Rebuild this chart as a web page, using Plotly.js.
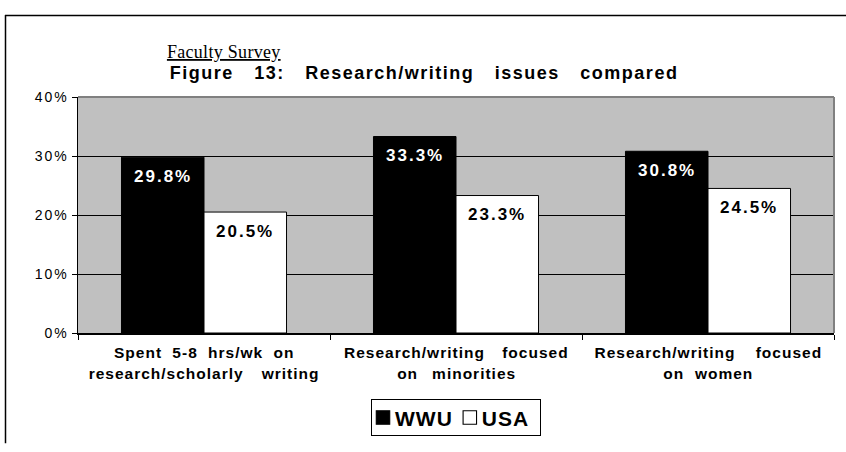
<!DOCTYPE html>
<html>
<head>
<meta charset="utf-8">
<script src="https://cdn.plot.ly/plotly-3.0.1.min.js"></script>
<style>
html,body{margin:0;padding:0;background:#fff;}
#chart{width:846px;height:452px;}
#chart .ytick text{letter-spacing:2px;}
#chart .legendtext{letter-spacing:1px;}
</style>
</head>
<body>
<div id="chart"></div>
<script>
var categories = ["cat1", "cat2", "cat3"];
var labelLine1 = ["Spent 5-8 hrs/wk on", "Research/writing focused", "Research/writing focused"];
var labelLine2 = ["research/scholarly writing", "on minorities", "on women"];
var wwu = [0.298, 0.333, 0.308];
var usa = [0.205, 0.233, 0.245];
var seriesNames = ["WWU", "USA"];
var yTicks = [0, 0.1, 0.2, 0.3, 0.4];

// word spacing of the justified category label lines (styling, px)
var line1Spacing = [5, 12, 15];
var line2Spacing = [12.7, 8.7, 5.4];

var W = 846, H = 452, L = 78, R = 12, T = 97, B = 113;
var pw = W - L - R, ph = H - T - B;
function px(x){ return (x - L) / pw; }
function py(y){ return (H - B - y) / ph; }

var font = "Liberation Sans, Arial, sans-serif";

var traces = [
  {type: "bar", name: seriesNames[0], x: categories, y: wwu,
   marker: {color: "#000000", line: {color: "#000000", width: 1}}, hoverinfo: "none"},
  {type: "bar", name: seriesNames[1], x: categories, y: usa,
   marker: {color: "#ffffff", line: {color: "#000000", width: 1}}, hoverinfo: "none"}
];

var annotations = [];
var styles = [];
for (var i = 0; i < categories.length; i++) {
  annotations.push({x: i - 0.164, y: wwu[i], xref: "x", yref: "y", text: (wwu[i]*100).toFixed(1) + "%",
    showarrow: false, yanchor: "middle", yshift: -19, font: {family: font, size: 17, color: "#ffffff", weight: "bold"}});
  styles.push({ls: 2, ws: 0});
  annotations.push({x: i + 0.164, y: usa[i], xref: "x", yref: "y", text: (usa[i]*100).toFixed(1) + "%",
    showarrow: false, yanchor: "middle", yshift: -19, font: {family: font, size: 17, color: "#000000", weight: "bold"}});
  styles.push({ls: 2, ws: 0});
  annotations.push({x: i, y: py(358.5), xref: "x", yref: "paper", text: labelLine1[i], showarrow: false,
    yanchor: "middle", font: {family: font, size: 15.5, color: "#000000", weight: "bold"}});
  styles.push({ls: 1, ws: line1Spacing[i]});
  annotations.push({x: i, y: py(380.5), xref: "x", yref: "paper", text: labelLine2[i], showarrow: false,
    yanchor: "middle", font: {family: font, size: 15.5, color: "#000000", weight: "bold"}});
  styles.push({ls: 1, ws: line2Spacing[i]});
}
annotations.push({x: px(224), y: py(51), xref: "paper", yref: "paper", xanchor: "center", yanchor: "middle",
  text: "<u>Faculty Survey</u>", showarrow: false, font: {family: "Liberation Serif, Times New Roman, serif", size: 18, color: "#000"}});
styles.push({ls: 0.3, ws: 0});
annotations.push({x: px(424), y: py(72), xref: "paper", yref: "paper", xanchor: "center", yanchor: "middle",
  text: "Figure 13: Research/writing issues compared", showarrow: false,
  font: {family: font, size: 18, color: "#000", weight: "bold"}});
styles.push({ls: 1.5, ws: 14});

var shapes = [
  {type: "line", xref: "paper", yref: "paper", x0: px(5), x1: px(846), y0: py(13.5), y1: py(13.5), line: {color: "#000", width: 1.5}},
  {type: "line", xref: "paper", yref: "paper", x0: px(5.5), x1: px(5.5), y0: py(13), y1: py(452), line: {color: "#000", width: 1.5}},
  {type: "line", xref: "paper", yref: "paper", x0: 0, x1: 1, y0: 1, y1: 1, line: {color: "#808080", width: 2}},
  {type: "line", xref: "paper", yref: "paper", x0: 1, x1: 1, y0: 0, y1: 1, line: {color: "#808080", width: 2}}
];

var layout = {
  width: W, height: H,
  margin: {l: L, r: R, t: T, b: B, pad: 0},
  paper_bgcolor: "#ffffff", plot_bgcolor: "#c0c0c0",
  barmode: "group", bargap: 0.345, bargroupgap: 0,
  showlegend: true,
  legend: {orientation: "h", x: px(456), y: py(426), xanchor: "center", yanchor: "middle",
    bordercolor: "#000", borderwidth: 1, bgcolor: "#fff",
    font: {family: font, size: 21, color: "#000", weight: "bold"}, itemwidth: 30, traceorder: "normal"},
  xaxis: {type: "category", showticklabels: false, tickson: "boundaries", ticks: "outside", ticklen: 5,
    tickcolor: "#000", showline: true, linecolor: "#000", linewidth: 1.5, showgrid: false, zeroline: false, fixedrange: true},
  yaxis: {range: [0, 0.4], tickvals: yTicks, tickformat: ".0%", ticks: "outside", ticklen: 5, tickcolor: "#000",
    showline: true, linecolor: "#000", linewidth: 1.5, showgrid: true, gridcolor: "#000", gridwidth: 1,
    zeroline: false, tickfont: {family: font, size: 14, color: "#000"}, fixedrange: true},
  annotations: annotations,
  shapes: shapes
};

function parseT(el){
  var m = /translate\(\s*([-\d.eE]+)[ ,]+([-\d.eE]+)\s*\)/.exec(el.getAttribute("transform") || "");
  return m ? [parseFloat(m[1]), parseFloat(m[2])] : [0, 0];
}

Plotly.newPlot("chart", traces, layout, {displayModeBar: false, staticPlot: true}).then(function(){
  // annotation letter/word spacing (justified lines)
  document.querySelectorAll("#chart .annotation").forEach(function(g){
    var idx = parseInt(g.getAttribute("data-index"), 10);
    var st = styles[idx];
    if (!st) return;
    var t = g.querySelector("text");
    if (!t) return;
    t.style.letterSpacing = st.ls + "px";
    if (st.ws) t.style.wordSpacing = st.ws + "px";
  });
  // tighten legend: smaller gap between symbol and text, less padding
  var shift = 8, lead = 9, extra = 5, trim = 6;
  var leg = document.querySelector("#chart .legend");
  if (leg) {
    var items = leg.querySelectorAll(".traces");
    items.forEach(function(g, k){
      var tx = g.querySelector(".legendtext");
      if (tx) tx.setAttribute("x", parseFloat(tx.getAttribute("x")) - shift);
      var p = parseT(g);
      g.setAttribute("transform", "translate(" + (p[0] - lead - (shift + extra) * k) + "," + p[1] + ")");
    });
    var bg = leg.querySelector("rect.bg");
    if (bg) {
      var bw = parseFloat(bg.getAttribute("width")), bh = parseFloat(bg.getAttribute("height"));
      var by = parseFloat(bg.getAttribute("y") || 0);
      bg.setAttribute("width", bw - shift * items.length - 6);
      bg.setAttribute("height", bh - trim);
      bg.setAttribute("y", by + trim / 2);
    }
    var lp = parseT(leg);
    leg.setAttribute("transform", "translate(" + (lp[0] + (shift * items.length + 6) / 2) + "," + lp[1] + ")");
    leg.querySelectorAll(".legendpoints path").forEach(function(p){
      p.setAttribute("transform", (p.getAttribute("transform") || "") + " scale(1.12)");
    });
  }
});
</script>
</body>
</html>
